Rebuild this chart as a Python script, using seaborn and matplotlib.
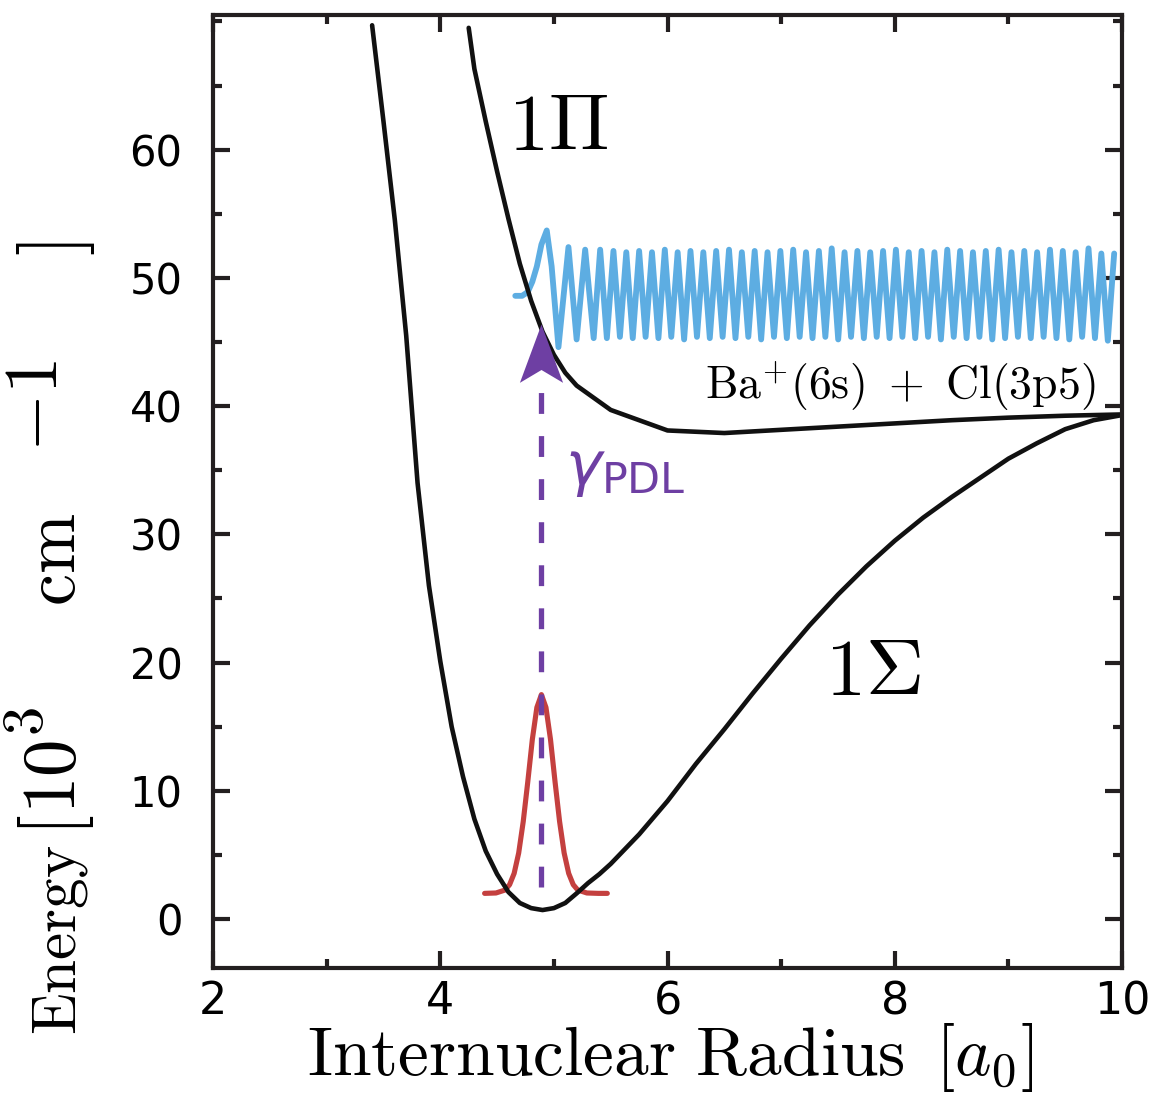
import matplotlib
matplotlib.use("Agg")
import matplotlib.pyplot as plt
from matplotlib.path import Path
from matplotlib.ticker import MultipleLocator
import seaborn as sns

# ---------------- data ----------------
sigma_r = [3.40, 3.50, 3.60, 3.70, 3.80, 3.90, 4.00, 4.10, 4.20, 4.30, 4.40, 4.50,
           4.60, 4.70, 4.80, 4.90, 5.00, 5.10, 5.20, 5.30, 5.40, 5.50, 5.75, 6.00,
           6.25, 6.50, 6.75, 7.00, 7.25, 7.50, 7.75, 8.00, 8.25, 8.50, 8.75, 9.00,
           9.25, 9.50, 9.75, 10.0]
sigma_e = [69.7, 62.2, 54.5, 45.5, 34.0, 26.0, 20.1, 15.0, 11.1, 7.8, 5.3, 3.5,
           2.1, 1.25, 0.85, 0.70, 0.85, 1.25, 2.0, 2.8, 3.5, 4.3, 6.6, 9.2,
           12.1, 14.8, 17.6, 20.3, 22.9, 25.3, 27.5, 29.5, 31.3, 32.9, 34.4, 35.9,
           37.1, 38.2, 38.9, 39.3]

pi_r = [4.25, 4.30, 4.40, 4.50, 4.60, 4.70, 4.80, 4.90, 5.00, 5.10, 5.20, 5.50,
        6.00, 6.50, 7.00, 7.50, 8.00, 8.50, 9.00, 9.50, 10.0]
pi_e = [69.5, 66.3, 62.2, 58.3, 54.6, 51.1, 48.2, 45.8, 44.0, 42.6, 41.6, 39.7,
        38.1, 37.9, 38.15, 38.4, 38.65, 38.9, 39.1, 39.25, 39.35]

ground_r = [4.39, 4.49, 4.57, 4.61, 4.65, 4.69, 4.73, 4.77, 4.81, 4.85, 4.89,
            4.93, 4.97, 5.01, 5.05, 5.09, 5.13, 5.17, 5.21, 5.29, 5.39, 5.47]
ground_psi = [2.0, 2.03, 2.26, 2.68, 3.56, 5.15, 7.6, 10.7, 14.0, 16.5, 17.5,
              16.5, 14.0, 10.7, 7.6, 5.15, 3.56, 2.68, 2.26, 2.03, 2.0, 2.0]

cont_r = [4.66, 4.72, 4.77, 4.81, 4.85, 4.89, 4.937, 4.98, 5.04, 5.128, 5.20,
          5.275, 5.35, 5.407, 5.466, 5.524,
          5.581, 5.637, 5.694, 5.750, 5.807, 5.863, 5.920, 5.976, 6.033, 6.089,
          6.146, 6.202, 6.259, 6.315, 6.372, 6.428, 6.485, 6.541, 6.598, 6.654,
          6.711, 6.767, 6.824, 6.880, 6.937, 6.993, 7.050, 7.106, 7.163, 7.219,
          7.276, 7.332, 7.389, 7.445, 7.502, 7.558, 7.615, 7.671, 7.728, 7.784,
          7.841, 7.897, 7.954, 8.010, 8.067, 8.123, 8.180, 8.236, 8.293, 8.349,
          8.406, 8.462, 8.519, 8.575, 8.632, 8.688, 8.745, 8.801, 8.858, 8.914,
          8.971, 9.027, 9.084, 9.140, 9.197, 9.253, 9.310, 9.366, 9.423, 9.479,
          9.536, 9.592, 9.649, 9.705, 9.762, 9.818, 9.875, 9.931]
cont_psi = [48.6, 48.6, 48.9, 49.7, 50.9, 52.6, 53.7, 50.9, 44.6, 52.4, 45.2,
            52.2, 45.3, 52.2, 45.3, 52.1,
            45.4, 52.0, 45.3, 52.1, 45.4, 52.0, 45.3, 52.2, 45.4, 52.0,
            45.2, 52.1, 45.4, 52.0, 45.3, 52.1, 45.4, 52.2, 45.3, 52.0,
            45.4, 52.1, 45.2, 52.0, 45.4, 52.1, 45.3, 52.2, 45.4, 52.0,
            45.3, 52.1, 45.4, 52.3, 45.2, 52.0, 45.4, 52.1, 45.3, 52.0,
            45.4, 52.1, 45.3, 52.2, 45.4, 52.0, 45.3, 52.1, 45.4, 52.0,
            45.2, 52.2, 45.4, 52.1, 45.3, 52.0, 45.4, 52.1, 45.2, 52.2,
            45.3, 52.0, 45.4, 52.1, 45.3, 52.0, 45.4, 52.2, 45.3, 52.1,
            45.2, 52.0, 45.4, 52.3, 45.3, 51.9, 45.1, 51.9]

pdl_r = [4.89, 4.89]
pdl_e = [2.5, 41.6]
pdl_tip = 46.4

x_ticks = [2, 4, 6, 8, 10]
y_ticks = [0, 10, 20, 30, 40, 50, 60]

# y-axis label pieces: (text, font size, raise px, start row px from top)
ylabel_parts = [(r"$\mathrm{Energy}$", 44, 0, 1035),
                (r"$[$", 54, 0, 836),
                (r"$10$", 54, 0, 814),
                (r"$3$", 42, 32, 736),
                (r"$\mathrm{cm}$", 52, 0, 606),
                (r"$-1$", 54, 18, 452),
                (r"$]$", 56, 0, 256)]

# ---------------- style ----------------
sns.set_style("ticks")
plt.rcParams["font.family"] = ["DejaVu Sans"]
plt.rcParams["mathtext.fontset"] = "cm"
plt.rcParams["lines.scale_dashes"] = False
plt.rcParams["lines.solid_joinstyle"] = "round"
plt.rcParams["text.color"] = "black"
plt.rcParams["axes.labelcolor"] = "black"

BLACK = "#111111"
RED = "#C4403F"
BLUE = "#5DADE2"
PURPLE = "#6E3FA3"
SPINE = "#231F20"

W, H = 1156, 1112
fig = plt.figure(figsize=(W / 100, H / 100), dpi=100)
ax = fig.add_axes([0.1843, 0.1295, 0.7863, 0.857])

sns.lineplot(x=ground_r, y=ground_psi, ax=ax, color=RED, linewidth=3.7,
             estimator=None, sort=False)
sns.lineplot(x=cont_r, y=cont_psi, ax=ax, color=BLUE, linewidth=4.2,
             estimator=None, sort=False)
sns.lineplot(x=sigma_r, y=sigma_e, ax=ax, color=BLACK, linewidth=3.3,
             estimator=None, sort=False)
sns.lineplot(x=pi_r, y=pi_e, ax=ax, color=BLACK, linewidth=3.3,
             estimator=None, sort=False)

# dashed excitation line + notched arrow head
ax.plot(pdl_r, pdl_e, color=PURPLE, linewidth=3.8, dashes=(15, 16),
        solid_capstyle="butt", dash_capstyle="butt")
head = Path([(0, 0), (0.37, -1.0), (0, -0.78), (-0.37, -1.0), (0, 0)],
            [Path.MOVETO, Path.LINETO, Path.LINETO, Path.LINETO, Path.CLOSEPOLY])
ax.plot([pdl_r[0]], [pdl_tip], marker=head, markersize=84, color=PURPLE,
        markeredgewidth=0, linestyle="none")

# labels in the plot
ax.text(4.60, 60.0, r"$1\Pi$", fontsize=58, ha="left", va="baseline")
ax.text(7.39, 17.5, r"$1\Sigma$", fontsize=58, ha="left", va="baseline")
ax.text(6.33, 40.5, r"$\mathrm{Ba}^{+}\mathrm{(6s)}\ +\ \mathrm{Cl(3p5)}$",
        fontsize=33, ha="left", va="baseline")
ax.text(5.10, 33.9, r"$\gamma_{\mathrm{PDL}}$", fontsize=44, color=PURPLE,
        ha="left", va="baseline", math_fontfamily="dejavusans")

ax.set_xlim(2, 10)
ax.set_ylim(-3.82, 70.5)
ax.set_xticks(x_ticks)
ax.set_yticks(y_ticks)
ax.xaxis.set_minor_locator(MultipleLocator(1))
ax.yaxis.set_minor_locator(MultipleLocator(5))

for s in ax.spines.values():
    s.set_linewidth(3.0)
    s.set_color(SPINE)

ax.tick_params(which="both", direction="in", top=True, right=True,
               width=3.0, color=SPINE, labelcolor="black")
ax.tick_params(which="major", length=12)
ax.tick_params(which="minor", length=6.5)
ax.tick_params(axis="y", labelsize=30, pad=22)
ax.tick_params(axis="x", labelsize=32, pad=9)

ax.set_xlabel(r"$\mathrm{Internuclear\ Radius}\ \,[a_0]$", fontsize=50)
ax.xaxis.label.set_va("baseline")
ax.xaxis.set_label_coords(0.503, -0.112)

# y label built from pieces so the superscripts keep the reference's size
base_x = 75.0
for txt, size, rise, row in ylabel_parts:
    fig.text((base_x - rise) / W, (H - row) / H, txt, fontsize=size,
             rotation=90, rotation_mode="anchor", ha="left", va="baseline")

fig.savefig("out.png", dpi=100)
